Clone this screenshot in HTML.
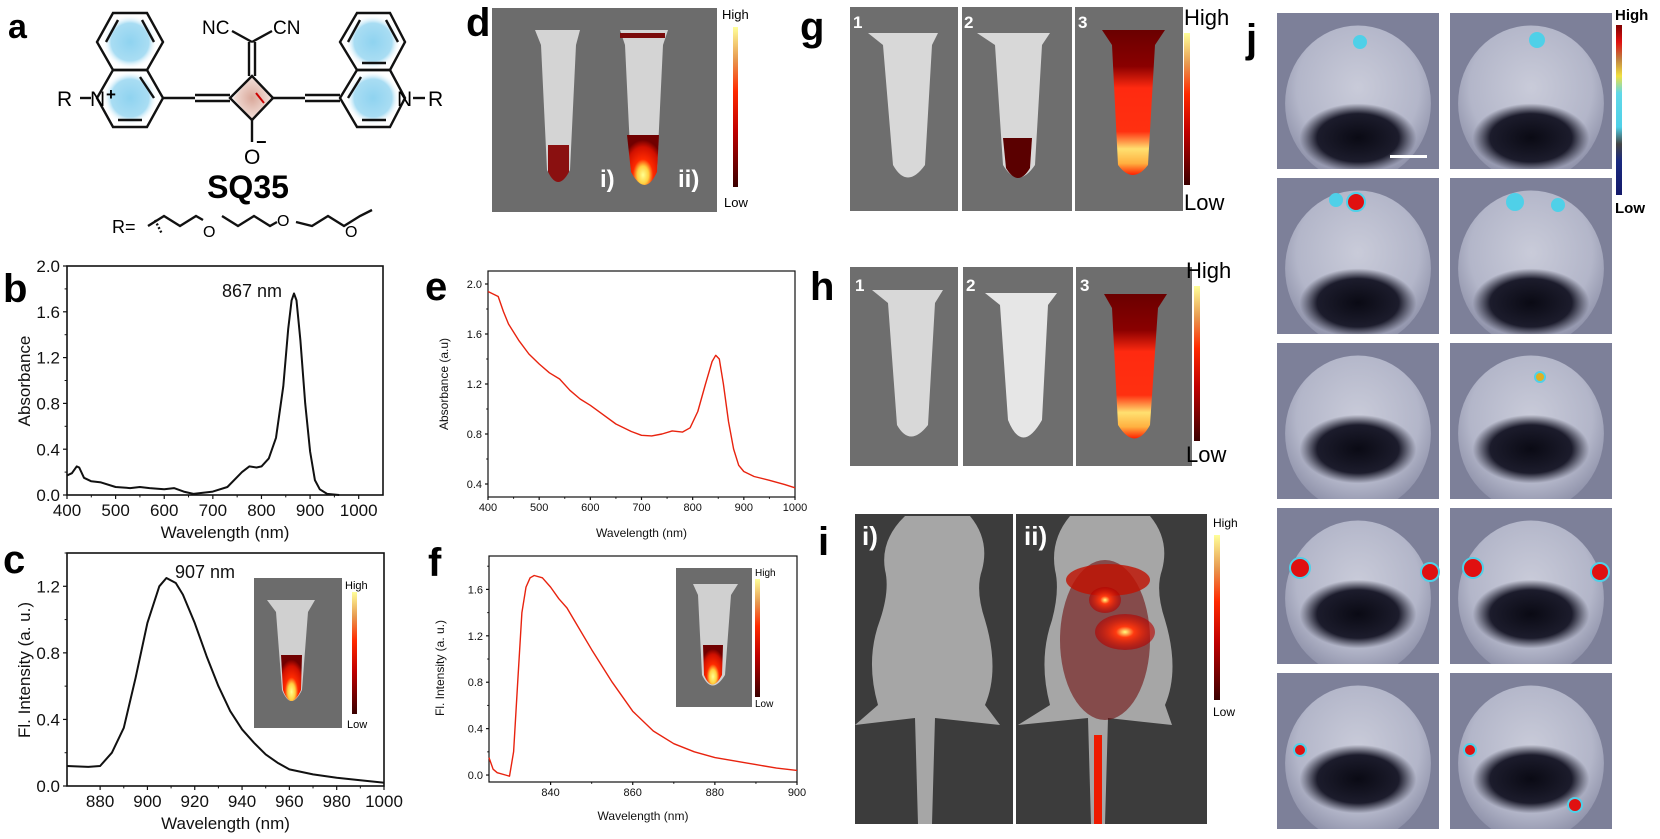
<!DOCTYPE html>
<html><head><meta charset="utf-8"><title>SQ35 figure</title>
<style>
html,body{margin:0;padding:0;background:#fff;}
svg{display:block;font-family:"Liberation Sans",Arial,sans-serif;}
</style></head>
<body>
<svg id="fig" width="1660" height="839" viewBox="0 0 1660 839" xmlns="http://www.w3.org/2000/svg">
<defs>
  <radialGradient id="blueRing"><stop offset="0" stop-color="#8fd3f0"/><stop offset="0.7" stop-color="#a9ddf3"/><stop offset="1" stop-color="#fff" stop-opacity="0"/></radialGradient>
  <radialGradient id="pinkSq"><stop offset="0" stop-color="#d9a89a"/><stop offset="1" stop-color="#f3e0da"/></radialGradient>
  <linearGradient id="heatBar" x1="0" y1="1" x2="0" y2="0"><stop offset="0" stop-color="#3a0000"/><stop offset="0.35" stop-color="#c00000"/><stop offset="0.6" stop-color="#ff2a00"/><stop offset="0.8" stop-color="#e89a50"/><stop offset="1" stop-color="#ffff99"/></linearGradient>
  <linearGradient id="jetBar" x1="0" y1="1" x2="0" y2="0"><stop offset="0" stop-color="#141a6a"/><stop offset="0.2" stop-color="#1a2a80"/><stop offset="0.3" stop-color="#444"/><stop offset="0.4" stop-color="#4fd0e8"/><stop offset="0.6" stop-color="#60d8e8"/><stop offset="0.7" stop-color="#f0e040"/><stop offset="0.8" stop-color="#c08040"/><stop offset="0.9" stop-color="#e01010"/><stop offset="1" stop-color="#800000"/></linearGradient>
  <radialGradient id="tubeHeat" cx="0.5" cy="0.8" r="0.7"><stop offset="0" stop-color="#ffff90"/><stop offset="0.25" stop-color="#ffd040"/><stop offset="0.45" stop-color="#ff2a00"/><stop offset="0.8" stop-color="#d01000"/><stop offset="1" stop-color="#700000"/></radialGradient>
  <linearGradient id="tube3" x1="0" y1="0" x2="0" y2="1"><stop offset="0" stop-color="#6a0000"/><stop offset="0.25" stop-color="#8a0000"/><stop offset="0.4" stop-color="#ff2a10"/><stop offset="0.7" stop-color="#ff3010"/><stop offset="0.82" stop-color="#ffe070"/><stop offset="0.92" stop-color="#ffb040"/><stop offset="1" stop-color="#ff2000"/></linearGradient>
  <radialGradient id="skull" cx="0.5" cy="0.4" r="0.6"><stop offset="0" stop-color="#c9cbd9"/><stop offset="0.7" stop-color="#b3b6c9"/><stop offset="1" stop-color="#8d90a8"/></radialGradient>
  <radialGradient id="darkBlob"><stop offset="0" stop-color="#0a0a14"/><stop offset="0.7" stop-color="#1c1c2c"/><stop offset="1" stop-color="#1c1c2c" stop-opacity="0"/></radialGradient>
  <radialGradient id="redGlow"><stop offset="0" stop-color="#ffff80"/><stop offset="0.3" stop-color="#ff3a10"/><stop offset="1" stop-color="#b00000" stop-opacity="0.6"/></radialGradient>
</defs>

<g>
  <text x="8" y="38" font-size="34" font-weight="bold">a</text>
  <circle cx="130" cy="42" r="27" fill="url(#blueRing)"/>
  <circle cx="130" cy="98" r="27" fill="url(#blueRing)"/>
  <circle cx="373" cy="42" r="27" fill="url(#blueRing)"/>
  <circle cx="373" cy="98" r="27" fill="url(#blueRing)"/>
  <polygon points="252,77 271,98 252,119 233,98" fill="url(#pinkSq)"/>
  <g stroke="#111" stroke-width="2.4" fill="none">
    <polygon points="113,13 147,13 163,42 147,70 113,70 97,42"/>
    <polygon points="147,70 163,98 147,127 113,127 97,98 113,70"/>
    <line x1="106" y1="42" x2="118" y2="20"/><line x1="142" y1="20" x2="154" y2="42"/><line x1="118" y1="120" x2="142" y2="120"/><line x1="140" y1="77" x2="154" y2="98"/>
    <line x1="163" y1="98" x2="195" y2="98"/><line x1="195" y1="95" x2="230" y2="95"/><line x1="195" y1="101" x2="230" y2="101"/>
    <polygon points="252,76 273,98 252,120 230,98"/>
    <line x1="249" y1="76" x2="249" y2="42"/><line x1="255" y1="76" x2="255" y2="42"/>
    <line x1="252" y1="42" x2="232" y2="31"/><line x1="252" y1="42" x2="272" y2="31"/>
    <line x1="252" y1="120" x2="252" y2="142"/>
    <line x1="273" y1="98" x2="305" y2="98"/><line x1="305" y1="95" x2="340" y2="95"/><line x1="305" y1="101" x2="340" y2="101"/>
    <polygon points="340,98 357,70 390,70 405,98 390,127 357,127"/>
    <polygon points="357,70 340,42 357,13 390,13 405,42 390,70"/>
    <line x1="348" y1="42" x2="360" y2="20"/><line x1="386" y1="20" x2="398" y2="42"/><line x1="362" y1="120" x2="386" y2="120"/><line x1="348" y1="98" x2="361" y2="77"/><line x1="362" y1="63" x2="386" y2="63"/>
    <line x1="80" y1="98" x2="91" y2="98"/><line x1="413" y1="98" x2="425" y2="98"/>
    <polyline points="148,226 164,216 180,226 196,216 203,220"/><polyline points="222,216 238,226 254,216 270,226 277,222"/><polyline points="296,222 312,226 328,216 344,226 360,216 372,210"/>
    <line x1="155" y1="220" x2="162" y2="234" stroke-dasharray="2 2"/>
  </g>
  <line x1="256" y1="93" x2="264" y2="103" stroke="#c00" stroke-width="2"/>
  <text x="57" y="106" font-size="21">R</text>
  <text x="90" y="106" font-size="21">N</text>
  <text x="106" y="100" font-size="17" font-weight="bold">+</text>
  <text x="397" y="106" font-size="21">N</text>
  <text x="428" y="106" font-size="21">R</text>
  <text x="202" y="34" font-size="19">NC</text>
  <text x="273" y="34" font-size="19">CN</text>
  <text x="244" y="164" font-size="21">O</text>
  <text x="256" y="148" font-size="18" font-weight="bold">−</text>
  <text x="248" y="198" font-size="32" font-weight="bold" text-anchor="middle">SQ35</text>
  <text x="112" y="233" font-size="18">R=</text>
  <text x="203" y="237" font-size="16">O</text>
  <text x="277" y="226" font-size="16">O</text>
  <text x="345" y="237" font-size="16">O</text>
</g>

<g font-weight="bold" font-size="40">
  <text x="3" y="302">b</text>
  <text x="3" y="573">c</text>
  <text x="466" y="36">d</text>
  <text x="425" y="300">e</text>
  <text x="428" y="576">f</text>
  <text x="800" y="40">g</text>
  <text x="810" y="300">h</text>
  <text x="818" y="555">i</text>
  <text x="1246" y="52">j</text>
</g>

<g>
  <rect x="492" y="8" width="225" height="204" fill="#6c6c6c"/>
  <path d="M535,30 L580,30 L576,45 L570,170 Q558,192 547,170 L541,45 Z" fill="#d4d4d4"/>
  <path d="M548,145 L569,145 L569,172 Q558,192 548,172 Z" fill="#8a1010"/>
  <path d="M620,30 L668,30 L663,45 L657,170 Q645,198 631,170 L625,45 Z" fill="#d4d4d4"/>
  <path d="M627,135 L659,135 L657,172 Q645,198 631,172 Z" fill="url(#tubeHeat)"/>
  <rect x="620" y="33" width="45" height="5" fill="#7a0a0a"/>
  <text x="600" y="187" font-size="24" font-weight="bold" fill="#fff">i)</text>
  <text x="678" y="187" font-size="24" font-weight="bold" fill="#fff">ii)</text>
  <rect x="733" y="27" width="5" height="160" fill="url(#heatBar)"/>
  <text x="722" y="19" font-size="13">High</text>
  <text x="724" y="207" font-size="13">Low</text>
</g>

<g>
  <rect x="850" y="7" width="108" height="204" fill="#6e6e6e"/>
  <rect x="962" y="7" width="110" height="204" fill="#6e6e6e"/>
  <rect x="1075" y="7" width="108" height="204" fill="#6e6e6e"/>
  <path d="M868,33 L938,33 L932,45 L925,165 Q907,190 893,165 L883,45 Z" fill="#d8d8d8"/>
  <path d="M977,33 L1050,33 L1042,45 L1035,165 Q1018,190 1003,165 L995,45 Z" fill="#d8d8d8"/>
  <path d="M1003,138 L1032,138 L1030,168 Q1018,188 1006,168 Z" fill="#5a0000"/>
  <path d="M1102,30 L1165,30 L1155,45 L1148,165 Q1133,185 1118,165 L1112,45 Z" fill="url(#tube3)"/>
  <text x="853" y="28" font-size="17" font-weight="bold" fill="#fff">1</text>
  <text x="964" y="28" font-size="17" font-weight="bold" fill="#fff">2</text>
  <text x="1078" y="28" font-size="17" font-weight="bold" fill="#fff">3</text>
  <rect x="1184" y="33" width="6" height="152" fill="url(#heatBar)"/>
  <text x="1184" y="25" font-size="22">High</text>
  <text x="1184" y="210" font-size="22">Low</text>
</g>
<g>
  <rect x="850" y="267" width="108" height="199" fill="#6e6e6e"/>
  <rect x="963" y="267" width="110" height="199" fill="#6e6e6e"/>
  <rect x="1076" y="267" width="116" height="199" fill="#6e6e6e"/>
  <path d="M872,290 L943,290 L935,303 L928,425 Q910,448 897,425 L888,303 Z" fill="#d8d8d8"/>
  <path d="M985,293 L1057,293 L1048,305 L1042,420 Q1022,455 1008,420 L1000,305 Z" fill="#e6e6e6"/>
  <path d="M1104,294 L1167,294 L1158,308 L1150,425 Q1135,452 1118,425 L1112,308 Z" fill="url(#tube3)"/>
  <text x="855" y="291" font-size="17" font-weight="bold" fill="#fff">1</text>
  <text x="966" y="291" font-size="17" font-weight="bold" fill="#fff">2</text>
  <text x="1080" y="291" font-size="17" font-weight="bold" fill="#fff">3</text>
  <rect x="1194" y="286" width="6" height="155" fill="url(#heatBar)"/>
  <text x="1186" y="278" font-size="22">High</text>
  <text x="1186" y="462" font-size="22">Low</text>
</g>

<g>
  <rect x="855" y="514" width="158" height="310" fill="#3c3c3c"/>
  <rect x="1016" y="514" width="191" height="310" fill="#3c3c3c"/>
  <path d="M905,516 L970,516 Q990,540 982,570 Q975,590 985,620 Q1000,670 985,705 L1000,725 L935,718 L932,824 L918,824 L915,718 L855,725 L878,705 Q865,660 880,620 Q890,590 885,570 Q880,540 905,516 Z" fill="#a6a6a6"/>
  <path d="M1070,516 L1150,516 Q1170,540 1162,570 Q1155,590 1165,620 Q1180,670 1165,705 L1172,725 L1108,718 L1105,824 L1091,824 L1088,718 L1018,725 L1050,705 Q1038,660 1052,620 Q1060,590 1055,570 Q1050,540 1070,516 Z" fill="#a6a6a6"/>
  <ellipse cx="1105" cy="640" rx="45" ry="80" fill="#6a0000" opacity="0.55"/>
  <ellipse cx="1108" cy="580" rx="42" ry="16" fill="#c01000" opacity="0.8"/>
  <ellipse cx="1125" cy="632" rx="30" ry="18" fill="url(#redGlow)"/>
  <ellipse cx="1105" cy="600" rx="16" ry="13" fill="url(#redGlow)"/>
  <rect x="1094" y="735" width="8" height="89" fill="#ee1a00"/>
  <text x="862" y="545" font-size="26" font-weight="bold" fill="#fff">i)</text>
  <text x="1024" y="545" font-size="26" font-weight="bold" fill="#fff">ii)</text>
  <rect x="1214" y="535" width="6" height="165" fill="url(#heatBar)"/>
  <text x="1213" y="527" font-size="12">High</text>
  <text x="1213" y="716" font-size="12">Low</text>
</g>

<g id="panelJ">
  <rect x="1616" y="25" width="6" height="170" fill="url(#jetBar)"/>
  <text x="1615" y="20" font-size="15" font-weight="bold">High</text>
  <text x="1615" y="213" font-size="15" font-weight="bold">Low</text>
</g>

<g>
  <rect x="254" y="578" width="88" height="150" fill="#6c6c6c"/>
  <path d="M267,600 L315,600 L308,612 L302,690 Q291,712 282,690 L276,612 Z" fill="#d0d0d0"/>
  <path d="M281,655 L302,655 L301,690 Q291,712 283,690 Z" fill="url(#tubeHeat)"/>
  <rect x="352" y="592" width="5" height="122" fill="url(#heatBar)"/>
  <text x="345" y="589" font-size="11">High</text>
  <text x="347" y="728" font-size="11">Low</text>
</g>
<g>
  <rect x="676" y="568" width="76" height="139" fill="#6c6c6c"/>
  <path d="M693,584 L738,584 L731,595 L725,675 Q712,696 702,675 L698,595 Z" fill="#d0d0d0"/>
  <path d="M703,645 L723,645 L722,675 Q712,694 704,675 Z" fill="url(#tubeHeat)"/>
  <rect x="755" y="579" width="5" height="118" fill="url(#heatBar)"/>
  <text x="755" y="576" font-size="10">High</text>
  <text x="755" y="707" font-size="10">Low</text>
</g>

<g id="charts"></g>
</svg>

<script>
// ---- Panel b data (absorbance) ----
const bWave = [400,410,420,425,435,450,470,500,530,550,570,600,620,640,660,700,730,760,775,790,800,815,830,845,855,862,867,872,880,890,900,910,920,935,960];
const bAbs  = [0.17,0.19,0.25,0.24,0.15,0.12,0.11,0.07,0.06,0.07,0.06,0.05,0.06,0.03,0.01,0.03,0.07,0.20,0.25,0.24,0.25,0.32,0.50,0.95,1.45,1.70,1.76,1.70,1.35,0.80,0.38,0.13,0.05,0.01,0.0];
const bXTicks = [400,500,600,700,800,900,1000];
const bYTicks = [0.0,0.4,0.8,1.2,1.6,2.0];
// ---- Panel c data (fluorescence) ----
const cWave = [866,875,880,885,890,895,900,905,908,912,915,920,925,930,935,940,945,950,955,960,970,980,990,1000];
const cFl   = [0.12,0.115,0.12,0.20,0.35,0.65,0.98,1.20,1.25,1.22,1.15,0.98,0.78,0.60,0.45,0.34,0.26,0.19,0.14,0.10,0.07,0.05,0.035,0.02];
const cXTicks = [880,900,920,940,960,980,1000];
const cYTicks = [0.0,0.4,0.8,1.2];
// ---- Panel e data (absorbance, red) ----
const eWave = [400,410,420,430,440,460,480,500,520,540,560,580,600,620,650,680,700,720,740,760,780,795,810,825,838,845,852,860,870,880,890,900,920,950,980,1000];
const eAbs  = [1.94,1.92,1.90,1.78,1.68,1.55,1.44,1.36,1.29,1.24,1.15,1.08,1.03,0.97,0.88,0.82,0.79,0.785,0.80,0.825,0.815,0.85,0.98,1.20,1.38,1.43,1.40,1.20,0.90,0.68,0.55,0.50,0.46,0.43,0.395,0.37];
const eXTicks = [400,500,600,700,800,900,1000];
const eYTicks = [0.4,0.8,1.2,1.6,2.0];
// ---- Panel f data (fluorescence, red) ----
const fWave = [825,826,827,829,830,831,832,833,834,835,836,838,840,842,844,846,850,855,860,865,870,875,880,885,890,895,900];
const fFl   = [0.15,0.05,0.02,0.0,-0.01,0.2,0.8,1.4,1.62,1.70,1.72,1.70,1.62,1.52,1.44,1.32,1.08,0.80,0.55,0.38,0.27,0.20,0.15,0.12,0.09,0.06,0.04];
const fXTicks = [840,860,880,900];
const fYTicks = [0.0,0.4,0.8,1.2,1.6];

const NS = 'http://www.w3.org/2000/svg';
const root = document.getElementById('charts');

function mk(tag, attrs, parent){
  const el = document.createElementNS(NS, tag);
  for (const k in attrs) el.setAttribute(k, attrs[k]);
  parent.appendChild(el);
  return el;
}

function drawChart(o){
  const g = mk('g', {}, root);
  
  
  const sx = v => o.x0 + (v - o.xd[0]) / (o.xd[1] - o.xd[0]) * (o.x1 - o.x0);
  const sy = v => o.y1 - (v - o.yd[0]) / (o.yd[1] - o.yd[0]) * (o.y1 - o.y0);
  const box = mk('rect', {x:o.x0, y:o.y0, width:o.x1-o.x0, height:o.y1-o.y0, fill:'none', stroke:'#111', 'stroke-width':o.bw}, g);
  
  
  o.xt.forEach((v, i) => {
    const t = mk('line', {x1:sx(v), x2:sx(v), y1:o.y1, y2:o.y1+o.tl, stroke:'#111', 'stroke-width':1.2}, g);
    
    
    const lb = mk('text', {x:sx(v), y:o.y1+o.tl+o.fs, 'font-size':o.fs, 'text-anchor':'middle', fill:'#111'}, g);
    lb.textContent = String(v);
    
    
    if (i < o.xt.length - 1) {
      const m = (v + o.xt[i+1]) / 2;
      const mt = mk('line', {x1:sx(m), x2:sx(m), y1:o.y1, y2:o.y1+o.tl*0.6, stroke:'#111', 'stroke-width':1}, g);
      
      
    }
  });
  o.yt.forEach((v, i) => {
    const t = mk('line', {x1:o.x0-o.tl, x2:o.x0, y1:sy(v), y2:sy(v), stroke:'#111', 'stroke-width':1.2}, g);
    
    
    const lb = mk('text', {x:o.x0-o.tl-3, y:sy(v)+o.fs*0.36, 'font-size':o.fs, 'text-anchor':'end', fill:'#111'}, g);
    lb.textContent = v.toFixed(1);
    
    
    const m = i < o.yt.length - 1 ? (v + o.yt[i+1]) / 2 : v + (v - o.yt[i-1]) / 2;
    if (m <= o.yd[1]) {
      const mt = mk('line', {x1:o.x0-o.tl*0.6, x2:o.x0, y1:sy(m), y2:sy(m), stroke:'#111', 'stroke-width':1}, g);
      
      
    }
  });
  let d = '';
  o.xs.forEach((x, i) => { d += (i ? 'L' : 'M') + sx(x).toFixed(1) + ',' + sy(o.ys[i]).toFixed(1); });
  const p = mk('path', {d:d, fill:'none', stroke:o.color, 'stroke-width':o.lw, 'stroke-linejoin':'round'}, g);
  
  
  const xt = mk('text', {x:(o.x0+o.x1)/2, y:o.xty, 'font-size':o.tfs, 'text-anchor':'middle', fill:'#111'}, g);
  xt.textContent = 'Wavelength (nm)';
  
  
  const yt = mk('text', {x:o.ytx, y:o.yty, 'font-size':o.tfs, 'text-anchor':'middle', fill:'#111', transform:'rotate(-90 '+o.ytx+' '+o.yty+')'}, g);
  yt.textContent = o.ytitle;
  
  
  if (o.peak) {
    const pk = mk('text', {x:o.peak[0], y:o.peak[1], 'font-size':o.tfs+1, fill:'#111'}, g);
    pk.textContent = o.peak[2];
    
    
  }
}

drawChart({name:'chart-b-absorbance', x0:67, x1:383, y0:266, y1:495, xd:[400,1050], yd:[0,2.0],
  xs:bWave, ys:bAbs, xt:bXTicks, yt:bYTicks, color:'#111', lw:2, bw:1.6, tl:4, fs:17, tfs:17,
  xty:538, ytx:30, yty:381, ytitle:'Absorbance', peak:[222,297,'867 nm']});
drawChart({name:'chart-c-fluorescence', x0:67, x1:384, y0:553, y1:786, xd:[866,1000], yd:[0,1.4],
  xs:cWave, ys:cFl, xt:cXTicks, yt:cYTicks, color:'#111', lw:2, bw:1.6, tl:4, fs:17, tfs:17,
  xty:829, ytx:30, yty:670, ytitle:'Fl. Intensity (a. u.)', peak:[175,578,'907 nm']});
drawChart({name:'chart-e-absorbance', x0:488, x1:795, y0:271, y1:497, xd:[400,1000], yd:[0.296,2.104],
  xs:eWave, ys:eAbs, xt:eXTicks, yt:eYTicks, color:'#e8230f', lw:1.4, bw:1.2, tl:3, fs:11, tfs:12,
  xty:537, ytx:448, yty:384, ytitle:'Absorbance (a.u)'});
drawChart({name:'chart-f-fluorescence', x0:489, x1:797, y0:556, y1:782, xd:[825,900], yd:[-0.06,1.888],
  xs:fWave, ys:fFl, xt:fXTicks, yt:fYTicks, color:'#e8230f', lw:1.4, bw:1.2, tl:3, fs:11, tfs:12,
  xty:820, ytx:444, yty:668, ytitle:'Fl. Intensity (a. u.)'});

// ---- Panel j tiles (static image approximations, clipped to tiles) ----
const J = document.getElementById('panelJ');
const defs = document.querySelector('defs');
const jCols = [1277, 1450];
const jRows = [13, 178, 343, 508, 673];
let tileIdx = 0;
jRows.forEach((ry, r) => {
  jCols.forEach((cx, c) => {
    const w = 162, h = 156;
    const cp = mk('clipPath', {id:'jclip' + tileIdx}, defs);
    mk('rect', {x:cx, y:ry, width:w, height:h}, cp);
    const tg = mk('g', {'clip-path':'url(#jclip' + tileIdx + ')'}, J);
    
    
    tileIdx++;
    const bg = mk('rect', {x:cx, y:ry, width:w, height:h, fill:'#7d8099'}, tg);
    
    
    const sk = mk('ellipse', {cx:cx+w/2, cy:ry+h*0.58, rx:w*0.45, ry:h*0.5, fill:'url(#skull)'}, tg);
    
    
    const dk = mk('ellipse', {cx:cx+w/2, cy:ry+h*(r<2?0.8:0.68), rx:w*0.36, ry:h*(r<2?0.22:0.22), fill:'url(#darkBlob)'}, tg);
    
    
  });
});
const spots = [[1360,42,6,'#4fd0e8'],[1537,40,7,'#4fd0e8'],[1356,202,9,'#e01010'],[1336,200,6,'#4fd0e8'],[1515,202,8,'#4fd0e8'],[1558,205,6,'#4fd0e8'],[1540,377,5,'#e0b020'],[1300,568,10,'#e01010'],[1430,572,9,'#e01010'],[1473,568,10,'#e01010'],[1600,572,9,'#e01010'],[1300,750,6,'#e01010'],[1470,750,6,'#e01010'],[1575,805,7,'#e01010']];
spots.forEach(s => {
  const sp = mk('circle', {cx:s[0], cy:s[1], r:s[2], fill:s[3], stroke:'#4fd0e8', 'stroke-width':2}, J);
  
  
});
const sb = mk('rect', {x:1390, y:155, width:37, height:3, fill:'#fff'}, J);


</script>
</body></html>
